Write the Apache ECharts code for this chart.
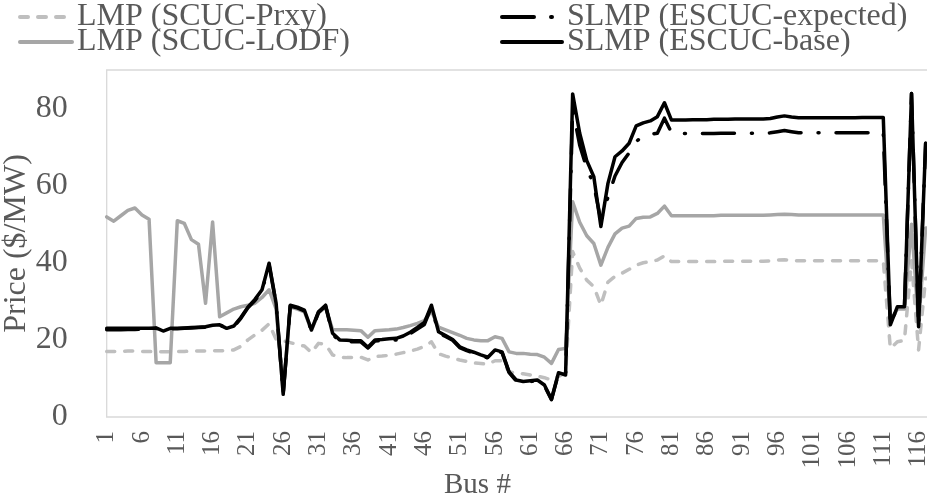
<!DOCTYPE html>
<html>
<head>
<meta charset="utf-8">
<script src="https://cdn.jsdelivr.net/npm/echarts@6/dist/echarts.min.js"></script>
<style>
  html, body { margin: 0; padding: 0; background: #fff; }
  #chart { width: 927px; height: 498px; }
</style>
</head>
<body>
<div id="chart"></div>
<script>
// Bus numbers 1..118
const buses = [
  '1','2','3','4','5','6','7','8','9','10','11','12','13','14','15','16','17','18','19','20',
  '21','22','23','24','25','26','27','28','29','30','31','32','33','34','35','36','37','38','39','40',
  '41','42','43','44','45','46','47','48','49','50','51','52','53','54','55','56','57','58','59','60',
  '61','62','63','64','65','66','67','68','69','70','71','72','73','74','75','76','77','78','79','80',
  '81','82','83','84','85','86','87','88','89','90','91','92','93','94','95','96','97','98','99','100',
  '101','102','103','104','105','106','107','108','109','110','111','112','113','114','115','116','117','118'
];

// LMP (SCUC-Prxy), $/MW
const lmpPrxy = [
  17.0, 17.0, 17.0, 17.1, 17.1, 17.0, 17.0, 16.9, 16.9, 16.9,
  17.0, 17.0, 17.1, 17.1, 17.1, 17.2, 17.2, 17.2, 17.4, 18.3,
  20.0, 21.3, 22.5, 24.2, 20.1, 19.8, 19.3, 18.8, 18.4, 16.7,
  19.1, 18.8, 16.1, 15.5, 15.4, 15.4, 15.5, 14.8, 15.7, 15.8,
  16.0, 16.3, 16.7, 17.1, 17.6, 18.3, 19.5, 16.4, 15.8, 15.3,
  14.8, 14.4, 14.0, 13.9, 13.7, 14.6, 14.6, 11.7, 11.4, 11.2,
  10.9, 10.6, 10.2, 9.6, 10.5, 11.5, 42.9, 38.6, 35.5, 33.8,
  29.0, 35.0, 36.5, 37.3, 38.3, 39.4, 40.0, 40.3, 40.7, 41.8,
  40.3, 40.3, 40.3, 40.3, 40.3, 40.3, 40.3, 40.4, 40.4, 40.4,
  40.4, 40.4, 40.4, 40.4, 40.5, 40.7, 40.8, 40.6, 40.5, 40.5,
  40.5, 40.5, 40.5, 40.5, 40.5, 40.5, 40.5, 40.5, 40.5, 40.5,
  40.5, 17.8, 19.5, 19.9, 40.5, 17.4, 36.0, 36.0
];

// LMP (SCUC-LODF), $/MW
const lmpLodf = [
  51.9, 50.8, 52.2, 53.6, 54.2, 52.4, 51.3, 14.1, 14.1, 14.1,
  50.9, 50.2, 46.0, 44.8, 29.5, 50.6, 26.0, 27.0, 28.0, 28.6,
  29.0, 29.5, 31.0, 33.0, 28.0, 6.5, 28.5, 28.0, 27.3, 22.5,
  27.0, 28.5, 22.6, 22.6, 22.6, 22.5, 22.4, 20.7, 22.4, 22.5,
  22.6, 22.8, 23.2, 23.7, 24.3, 25.0, 27.5, 23.3, 22.6, 21.9,
  21.2, 20.4, 20.0, 19.8, 19.8, 20.8, 20.4, 16.9, 16.5, 16.5,
  16.3, 16.2, 15.5, 13.9, 17.5, 17.8, 55.8, 50.5, 47.0, 45.0,
  39.4, 44.0, 47.5, 49.0, 49.5, 51.5, 51.8, 51.9, 52.8, 54.7,
  52.2, 52.2, 52.2, 52.2, 52.2, 52.2, 52.2, 52.3, 52.3, 52.3,
  52.3, 52.3, 52.3, 52.3, 52.4, 52.5, 52.6, 52.5, 52.4, 52.4,
  52.4, 52.4, 52.4, 52.4, 52.4, 52.4, 52.4, 52.4, 52.4, 52.4,
  52.4, 25.0, 28.0, 28.0, 50.0, 24.0, 49.0, 49.0
];

// SLMP (ESCUC-expected), $/MW
const slmpExpected = [
  22.6, 22.6, 22.6, 22.7, 22.7, 22.8, 22.9, 23.0, 22.3, 22.9,
  22.9, 23.0, 23.1, 23.2, 23.3, 23.6, 23.9, 23.0, 23.4, 25.6,
  28.3, 30.2, 32.7, 39.5, 29.3, 6.0, 28.8, 28.3, 27.5, 22.4,
  27.1, 28.8, 21.4, 19.7, 19.6, 19.5, 19.5, 17.9, 19.7, 19.8,
  19.9, 20.0, 20.6, 21.6, 22.8, 24.0, 28.6, 21.8, 20.9, 19.9,
  18.0, 17.2, 16.6, 15.9, 15.3, 17.2, 16.7, 11.5, 9.4, 9.0,
  9.2, 9.4, 8.1, 4.5, 11.3, 10.8, 80.0, 70.5, 64.5, 60.2,
  51.0, 57.0, 62.5, 66.0, 68.5, 71.5, 72.8, 73.3, 73.6, 77.5,
  73.8, 73.5, 73.5, 73.5, 73.5, 73.5, 73.5, 73.6, 73.6, 73.6,
  73.6, 73.6, 73.6, 73.6, 73.7, 74.0, 74.3, 74.0, 73.7, 73.7,
  73.7, 73.7, 73.7, 73.7, 73.7, 73.7, 73.7, 73.7, 73.7, 73.7,
  73.7, 23.9, 28.6, 28.6, 83.9, 23.4, 71.0, 66.0
];

// SLMP (ESCUC-base), $/MW
const slmpBase = [
  23.0, 23.0, 23.0, 23.0, 23.0, 23.0, 23.0, 23.1, 22.3, 23.0,
  23.0, 23.1, 23.2, 23.3, 23.4, 23.8, 23.9, 23.0, 23.6, 25.8,
  28.5, 30.5, 33.0, 39.9, 29.5, 5.9, 29.0, 28.5, 27.7, 22.6,
  27.3, 29.0, 21.7, 20.0, 19.9, 19.8, 19.8, 18.1, 20.0, 20.1,
  20.3, 20.4, 21.0, 22.0, 23.2, 24.5, 29.0, 22.1, 21.1, 20.1,
  18.2, 17.4, 16.8, 16.1, 15.5, 17.4, 16.9, 11.7, 9.6, 9.2,
  9.4, 9.6, 8.3, 4.6, 11.5, 10.9, 83.8, 73.6, 66.5, 62.3,
  49.4, 60.6, 67.5, 69.0, 71.0, 75.5, 76.3, 76.8, 77.9, 81.5,
  77.0, 77.0, 77.0, 77.1, 77.1, 77.1, 77.2, 77.2, 77.2, 77.3,
  77.3, 77.3, 77.3, 77.3, 77.4, 77.8, 78.1, 77.8, 77.6, 77.6,
  77.6, 77.6, 77.6, 77.6, 77.6, 77.6, 77.6, 77.7, 77.7, 77.7,
  77.7, 23.9, 28.6, 28.6, 83.9, 23.4, 71.0, 66.0
];

const seriesNames = ['LMP (SCUC-Prxy)', 'SLMP (ESCUC-expected)', 'LMP (SCUC-LODF)', 'SLMP (ESCUC-base)'];

const FONT = "'Liberation Serif', serif";
const TEXT = '#595959';

const chart = echarts.init(document.getElementById('chart'), null, { renderer: 'canvas' });

function lineSeries(name, data, color, type, z) {
  return {
    name: name,
    type: 'line',
    data: data,
    symbol: 'none',
    smooth: false,
    z: z,
    lineStyle: { color: color, width: 3.5, type: type, cap: 'round', join: 'round' },
    itemStyle: { color: color },
    emphasis: { disabled: true }
  };
}

// one legend entry per box so the two rows can sit tightly together
function legendEntry(name, left, top, itemWidth) {
  return {
    data: [name],
    left: left, top: top,
    itemWidth: itemWidth, itemHeight: 14, itemGap: 0,
    itemStyle: { color: 'rgba(0,0,0,0)', borderColor: 'rgba(0,0,0,0)', borderWidth: 0 },
    lineStyle: { width: 4 },
    textStyle: { fontFamily: FONT, fontSize: 32, color: TEXT, padding: [0, 0, 0, 0] }
  };
}

chart.setOption({
  animation: false,
  backgroundColor: '#fff',
  grid: {
    left: 106.7, width: 826, top: 70, bottom: 81,
    outerBoundsMode: 'none',
    containLabel: false,
    show: true, borderColor: '#d9d9d9', borderWidth: 1.3
  },
  legend: [
    legendEntry(seriesNames[0], 13, -4, 52),
    legendEntry(seriesNames[2], 13, 21, 52),
    legendEntry(seriesNames[1], 495, -4, 60),
    legendEntry(seriesNames[3], 495, 21, 60)
  ],
  xAxis: {
    type: 'category',
    data: buses,
    boundaryGap: false,
    axisLine: { show: false },
    axisTick: { show: false },
    splitLine: { show: false },
    axisLabel: {
      interval: 4, rotate: 90, margin: 14,
      fontFamily: FONT, fontSize: 25, color: TEXT
    }
  },
  yAxis: {
    type: 'value',
    min: 0, max: 90, interval: 20,
    name: 'Price ($/MW)',
    nameLocation: 'middle',
    nameGap: 74,
    nameMoveOverlap: false,
    nameTextStyle: { fontFamily: FONT, fontSize: 32, color: TEXT },
    axisLine: { show: false },
    axisTick: { show: false },
    splitLine: { show: false },
    axisLabel: {
      margin: 39,
      fontFamily: FONT, fontSize: 32, color: TEXT,
      formatter: function (v) { return v === 90 ? '' : String(v); }
    }
  },
  graphic: [{
    type: 'text',
    left: 444, top: 471,
    style: { text: 'Bus #', font: "29px 'Liberation Serif', serif", fill: TEXT }
  }],
  series: [
    lineSeries(seriesNames[0], lmpPrxy, '#bfbfbf', [8, 10], 1),
    lineSeries(seriesNames[2], lmpLodf, '#a6a6a6', 'solid', 2),
    lineSeries(seriesNames[1], slmpExpected, '#000000', [32, 17, 1, 17], 3),
    lineSeries(seriesNames[3], slmpBase, '#000000', 'solid', 4)
  ]
});
</script>
</body>
</html>
